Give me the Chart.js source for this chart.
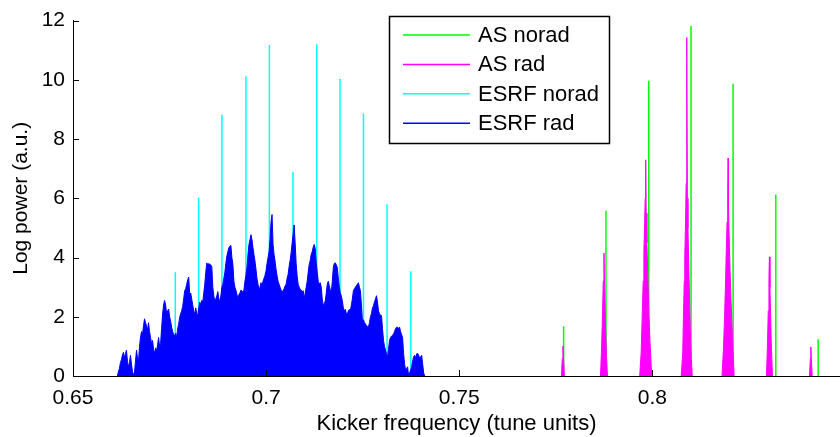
<!DOCTYPE html>
<html>
<head>
<meta charset="utf-8">
<script src="https://cdn.jsdelivr.net/npm/chart.js@4.4.0/dist/chart.umd.min.js"></script>
<style>
  html, body { margin: 0; padding: 0; background: #fff; overflow: hidden; }
  #mycanvas { display: block; }
</style>
</head>
<body>
<canvas id="mycanvas" width="840" height="437"></canvas>
<script>
var seriesNames = ['AS norad', 'AS rad', 'ESRF norad', 'ESRF rad'];
var seriesColors = ['#00ff00', '#ff00ff', '#00ffff', '#0000ff'];
var xTicks = [0.65, 0.7, 0.75, 0.8];
var yTicks = [0, 2, 4, 6, 8, 10, 12];

// AS norad - single lines
var asNoradFreq = [0.77704, 0.78800, 0.79907, 0.81003, 0.82092, 0.83198, 0.84294];
var asNoradPower = [1.67, 5.58, 9.97, 11.82, 9.87, 6.13, 1.24];

// AS rad - narrow peaks with a wider foot
var asRadFreq = [
  0.77647, 0.77670, 0.77686, 0.77702, 0.77725,
  0.78657, 0.78683, 0.78709, 0.78730, 0.78748, 0.78766, 0.78787, 0.78813, 0.78839,
  0.79673, 0.79712, 0.79738, 0.79764, 0.79782, 0.79798, 0.79816, 0.79829, 0.79842, 0.79860, 0.79881, 0.79907, 0.79938, 0.79985,
  0.80749, 0.80788, 0.80806, 0.80827, 0.80840, 0.80861, 0.80876, 0.80892, 0.80908, 0.80923, 0.80944, 0.80965, 0.80983, 0.81009, 0.81035,
  0.81806, 0.81845, 0.81871, 0.81897, 0.81915, 0.81936, 0.81952, 0.81962, 0.81972, 0.81988, 0.82014, 0.82040, 0.82079, 0.82118,
  0.82955, 0.82981, 0.83002, 0.83020, 0.83033, 0.83046, 0.83064, 0.83085, 0.83111,
  0.84070, 0.84093, 0.84105, 0.84117, 0.84140
];
var asRadPower = [
  0, 0.6, 1.01, 0.6, 0,
  0, 0.8, 2.0, 3.2, 4.15, 3.0, 1.8, 0.7, 0,
  0, 0.8, 2.0, 3.2, 4.2, 5.0, 6.0, 7.3, 5.5, 4.5, 3.5, 2.3, 1.2, 0,
  0, 0.8, 2.0, 3.2, 4.0, 5.2, 6.5, 11.43, 6.0, 5.0, 3.8, 2.6, 1.6, 0.6, 0,
  0, 1.0, 2.0, 3.2, 4.2, 5.2, 6.0, 7.36, 5.8, 4.8, 3.5, 2.5, 1.2, 0,
  0, 1.0, 2.2, 3.3, 4.02, 3.0, 2.0, 0.9, 0,
  0, 0.6, 0.98, 0.6, 0
];

// ESRF norad - single lines
var esrfNoradFreq = [0.67649, 0.68253, 0.68856, 0.69478, 0.70085, 0.70696, 0.71311, 0.71914, 0.72521, 0.73132, 0.73747];
var esrfNoradPower = [3.5, 6.03, 8.82, 10.12, 11.18, 6.9, 11.2, 10.03, 8.87, 5.8, 3.54];

// ESRF rad - dense spectrum
var esrfRadFreq = [
  0.66150,0.66176,0.66202,0.66228,0.66254,0.66280,0.66306,0.66332,0.66358,0.66384,
  0.66410,0.66436,0.66462,0.66488,0.66514,0.66540,0.66566,0.66592,0.66618,0.66644,
  0.66670,0.66696,0.66722,0.66748,0.66774,0.66800,0.66826,0.66852,0.66878,0.66904,
  0.66930,0.66956,0.66982,0.67008,0.67034,0.67060,0.67086,0.67112,0.67138,0.67164,
  0.67190,0.67216,0.67242,0.67268,0.67294,0.67320,0.67346,0.67372,0.67398,0.67424,
  0.67450,0.67476,0.67502,0.67528,0.67554,0.67580,0.67606,0.67632,0.67658,0.67684,
  0.67710,0.67736,0.67762,0.67788,0.67814,0.67840,0.67866,0.67892,0.67918,0.67944,
  0.67970,0.67996,0.68022,0.68048,0.68074,0.68100,0.68126,0.68152,0.68178,0.68204,
  0.68230,0.68256,0.68282,0.68308,0.68334,0.68360,0.68386,0.68412,0.68438,0.68464,
  0.68490,0.68516,0.68542,0.68568,0.68594,0.68620,0.68646,0.68672,0.68698,0.68724,
  0.68750,0.68776,0.68802,0.68828,0.68854,0.68880,0.68906,0.68932,0.68958,0.68984,
  0.69010,0.69036,0.69062,0.69088,0.69114,0.69140,0.69166,0.69192,0.69218,0.69244,
  0.69270,0.69296,0.69322,0.69348,0.69374,0.69400,0.69426,0.69452,0.69478,0.69504,
  0.69530,0.69556,0.69582,0.69608,0.69634,0.69660,0.69686,0.69712,0.69738,0.69764,
  0.69790,0.69816,0.69842,0.69868,0.69894,0.69920,0.69946,0.69972,0.69998,0.70024,
  0.70050,0.70076,0.70102,0.70128,0.70154,0.70180,0.70206,0.70232,0.70258,0.70284,
  0.70310,0.70336,0.70362,0.70388,0.70414,0.70440,0.70466,0.70492,0.70518,0.70544,
  0.70570,0.70596,0.70622,0.70648,0.70674,0.70700,0.70726,0.70752,0.70778,0.70804,
  0.70830,0.70856,0.70882,0.70908,0.70934,0.70960,0.70986,0.71012,0.71038,0.71064,
  0.71090,0.71116,0.71142,0.71168,0.71194,0.71220,0.71246,0.71272,0.71298,0.71324,
  0.71350,0.71376,0.71402,0.71428,0.71454,0.71480,0.71506,0.71532,0.71558,0.71584,
  0.71610,0.71636,0.71662,0.71688,0.71714,0.71740,0.71766,0.71792,0.71818,0.71844,
  0.71870,0.71896,0.71922,0.71948,0.71974,0.72000,0.72026,0.72052,0.72078,0.72104,
  0.72130,0.72156,0.72182,0.72208,0.72234,0.72260,0.72286,0.72312,0.72338,0.72364,
  0.72390,0.72416,0.72442,0.72468,0.72494,0.72520,0.72546,0.72572,0.72598,0.72624,
  0.72650,0.72676,0.72702,0.72728,0.72754,0.72780,0.72806,0.72832,0.72858,0.72884,
  0.72910,0.72936,0.72962,0.72988,0.73014,0.73040,0.73066,0.73092,0.73118,0.73144,
  0.73170,0.73196,0.73222,0.73248,0.73274,0.73300,0.73326,0.73352,0.73378,0.73404,
  0.73430,0.73456,0.73482,0.73508,0.73534,0.73560,0.73586,0.73612,0.73638,0.73664,
  0.73690,0.73716,0.73742,0.73768,0.73794,0.73820,0.73846,0.73872,0.73898,0.73924,
  0.73950,0.73976,0.74002,0.74028,0.74054,0.74080,0.74106
];
var esrfRadPower = [
  0,0.15,0.25,0.45,0.55,0.7,0.8,0.6,0.75,0.87,
  0.5,0.3,0.45,0.7,0.4,0.15,0.05,0.1,0.5,0.87,
  0.6,0.5,1.0,1.3,1.5,1.4,1.7,1.93,1.8,1.7,
  1.55,1.8,1.5,1.3,1.1,1.2,0.9,0.76,0.95,0.85,
  1.05,1.3,1.0,1.1,1.6,2.1,2.4,2.55,2.4,2.1,
  2.2,2.26,2.0,1.85,1.65,1.5,1.4,1.37,1.45,1.3,
  1.6,1.75,1.98,2.1,2.2,2.35,2.6,2.88,2.95,3.1,
  3.25,3.34,2.76,2.8,2.6,2.4,2.2,2.1,2.3,2.1,
  2.05,2.3,2.5,2.4,2.55,2.5,2.8,3.1,3.5,3.82,
  3.75,3.8,3.77,3.75,3.7,3.0,2.7,2.54,2.6,2.7,
  2.85,2.6,2.54,2.7,3.0,3.1,3.3,3.5,3.8,4.05,
  4.2,4.33,4.38,4.41,4.0,3.77,3.2,3.0,2.9,2.76,
  2.6,2.75,2.8,2.9,2.88,2.8,2.9,3.2,3.4,3.66,
  4.1,4.44,4.6,4.77,4.6,4.33,4.1,3.88,3.6,3.3,
  3.1,2.93,3.0,3.15,3.05,3.2,3.3,3.4,3.55,3.8,
  4.0,4.2,4.6,5.2,5.45,4.44,4.1,3.88,3.6,3.38,
  3.2,3.1,3.0,2.9,2.85,2.88,2.95,3.04,3.1,3.3,
  3.43,3.7,3.9,4.16,4.49,4.8,5.1,4.5,3.8,3.38,
  3.1,3.0,2.93,2.9,2.85,2.88,2.6,2.8,3.0,3.2,
  3.5,3.77,3.9,4.1,4.2,4.35,4.44,4.3,3.82,3.5,
  3.2,3.1,3.15,3.0,2.6,2.37,2.45,2.54,2.8,3.1,
  3.2,3.05,2.9,2.82,3.2,3.66,3.8,3.82,3.75,3.66,
  3.3,3.0,2.8,2.7,2.54,2.3,2.2,2.25,2.1,2.1,
  2.2,2.25,2.2,2.4,2.6,2.88,2.95,3.0,3.05,3.1,
  3.15,3.0,2.88,2.4,1.87,1.9,1.8,1.76,1.7,1.68,
  1.65,1.8,2.0,2.1,2.3,2.37,2.5,2.6,2.71,2.5,
  2.2,2.1,2.05,2.04,1.6,1.2,1.0,0.87,0.75,0.65,
  0.9,1.2,1.3,1.35,1.37,1.43,1.5,1.6,1.65,1.65,
  1.6,1.65,1.5,1.4,1.3,0.76,0.4,0.2,0.25,0.31,
  0.0,0.1,0.2,0.31,0.5,0.65,0.7,0.6,0.75,0.76,
  0.7,0.6,0.65,0.7,0.4,0.1,0
];

var FONT = '"Liberation Sans", Arial, Helvetica, sans-serif';

// vertical lines from 0 up to the value
function spikes(freq, power) {
  var pts = [];
  for (var i = 0; i < freq.length; i++) {
    pts.push({x: freq[i], y: 0});
    pts.push({x: freq[i], y: power[i]});
    pts.push({x: freq[i], y: null});
  }
  return pts;
}

// filled trace, broken where there is a gap between peaks
function trace(freq, power) {
  var pts = [];
  for (var i = 0; i < freq.length; i++) {
    if (i > 0 && freq[i] - freq[i - 1] > 0.002) {
      pts.push({x: freq[i - 1], y: null});
    }
    pts.push({x: freq[i], y: power[i]});
  }
  return pts;
}

// inward tick marks like the original plot
var innerTicks = {
  id: 'innerTicks',
  afterDraw: function(chart) {
    var ctx = chart.ctx, area = chart.chartArea;
    var xs = chart.scales.x, ys = chart.scales.y;
    ctx.save();
    ctx.strokeStyle = '#000';
    ctx.lineWidth = 1;
    ctx.beginPath();
    xTicks.forEach(function(v) {
      var px = Math.round(xs.getPixelForValue(v)) + 0.5;
      ctx.moveTo(px, area.bottom);
      ctx.lineTo(px, area.bottom - 6);
    });
    yTicks.forEach(function(v) {
      var py = Math.round(ys.getPixelForValue(v)) + 0.5;
      ctx.moveTo(area.left, py);
      ctx.lineTo(area.left + 6, py);
    });
    ctx.stroke();
    ctx.restore();
  }
};

// boxed legend inside the plot, top right
var boxLegend = {
  id: 'boxLegend',
  afterDraw: function(chart) {
    var ctx = chart.ctx;
    var left = 389.5, top = 16.5, w = 220, h = 127;
    ctx.save();
    ctx.fillStyle = '#fff';
    ctx.fillRect(left, top, w, h);
    ctx.strokeStyle = '#000';
    ctx.lineWidth = 1.5;
    ctx.strokeRect(left, top, w, h);
    ctx.font = '22px ' + FONT;
    ctx.textBaseline = 'middle';
    ctx.fillStyle = '#000';
    chart.data.datasets.forEach(function(ds, i) {
      var y = 35 + i * 29.4;
      ctx.strokeStyle = ds.borderColor;
      ctx.lineWidth = 1.5;
      ctx.beginPath();
      ctx.moveTo(403, y);
      ctx.lineTo(470, y);
      ctx.stroke();
      ctx.fillText(ds.label, 478, y + 1);
    });
    ctx.restore();
  }
};

var ctx = document.getElementById('mycanvas');

var chart = new Chart(ctx, {
  type: 'line',
  data: {
    datasets: [
      {
        label: seriesNames[0],
        data: spikes(asNoradFreq, asNoradPower),
        borderColor: seriesColors[0],
        borderWidth: 1.5,
        pointRadius: 0,
        spanGaps: false,
        order: 4
      },
      {
        label: seriesNames[1],
        data: trace(asRadFreq, asRadPower),
        borderColor: seriesColors[1],
        backgroundColor: seriesColors[1],
        borderWidth: 1,
        fill: 'origin',
        pointRadius: 0,
        spanGaps: false,
        order: 3
      },
      {
        label: seriesNames[2],
        data: spikes(esrfNoradFreq, esrfNoradPower),
        borderColor: seriesColors[2],
        borderWidth: 1.5,
        pointRadius: 0,
        spanGaps: false,
        order: 2
      },
      {
        label: seriesNames[3],
        data: trace(esrfRadFreq, esrfRadPower),
        borderColor: seriesColors[3],
        backgroundColor: seriesColors[3],
        borderWidth: 1,
        fill: 'origin',
        pointRadius: 0,
        spanGaps: false,
        order: 1
      }
    ]
  },
  options: {
    responsive: false,
    animation: false,
    devicePixelRatio: 1,
    layout: { padding: { left: 0, right: 0, top: 17, bottom: 0 } },
    plugins: {
      legend: { display: false },
      tooltip: { enabled: false }
    },
    elements: { line: { tension: 0 } },
    scales: {
      x: {
        type: 'linear',
        min: 0.65,
        max: 0.8486,
        afterBuildTicks: function(scale) {
          scale.ticks = xTicks.map(function(v) { return {value: v}; });
        },
        afterFit: function(scale) { scale.height = 61; },
        grid: { display: false, drawTicks: false },
        border: { display: true, color: '#000', width: 1 },
        ticks: {
          color: '#000',
          font: { family: FONT, size: 21 },
          padding: 10,
          maxRotation: 0,
          callback: function(v) { return String(+Number(v).toFixed(2)); }
        },
        title: {
          display: true,
          text: 'Kicker frequency (tune units)',
          color: '#000',
          font: { family: FONT, size: 22 },
          padding: { top: 0, bottom: 0 }
        }
      },
      y: {
        min: 0,
        max: 12,
        afterBuildTicks: function(scale) {
          scale.ticks = yTicks.map(function(v) { return {value: v}; });
        },
        afterFit: function(scale) { scale.width = 73; },
        grid: { display: false, drawTicks: false },
        border: { display: true, color: '#000', width: 1 },
        ticks: {
          color: '#000',
          font: { family: FONT, size: 21 },
          padding: 8
        },
        title: {
          display: true,
          text: 'Log power (a.u.)',
          color: '#000',
          font: { family: FONT, size: 21 },
          padding: { top: 9, bottom: 0 }
        }
      }
    }
  },
  plugins: [innerTicks, boxLegend]
});
</script>
</body>
</html>
